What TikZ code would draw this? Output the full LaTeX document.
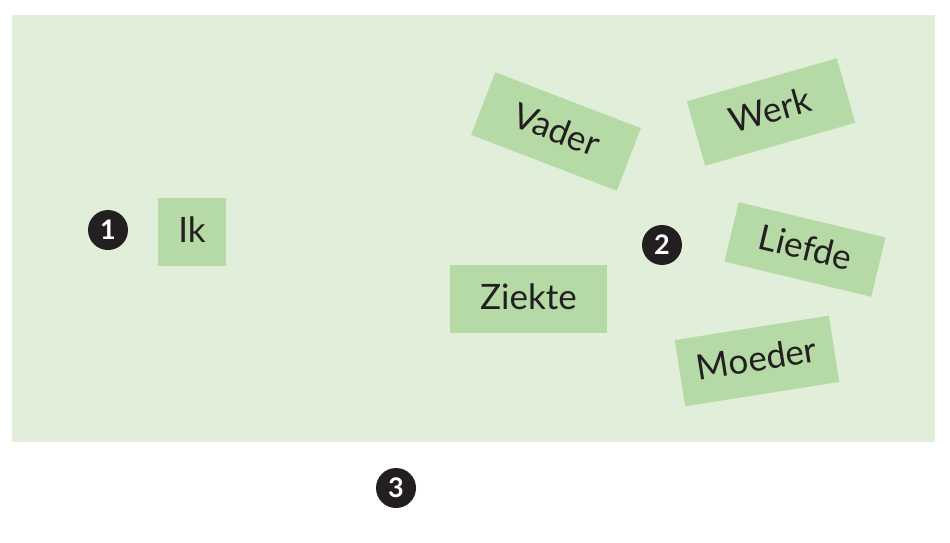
\documentclass[tikz,border=0pt]{standalone}
\usepackage{fontspec}
\setmainfont{Lato}
\definecolor{bgGreen}{HTML}{E1EED9}
\definecolor{boxGreen}{HTML}{B5DAA5}
\definecolor{inkDark}{HTML}{231F20}
\tikzset{
  wordbox/.style={fill=boxGreen, text=inkDark, inner sep=0pt, minimum width=156pt, minimum height=67pt,
    text height=25pt, text depth=4pt,
    font=\fontsize{35}{38}\selectfont},
  numdot/.style={circle, fill=inkDark, text=white, inner sep=0pt, minimum size=40pt,
    font=\fontsize{27}{30}\selectfont\bfseries}
}
\begin{document}
\begin{tikzpicture}[x=1pt,y=-1pt]
\useasboundingbox (0,0) rectangle (950,543);
\fill[white] (0,0) rectangle (950,543);
\fill[bgGreen] (12,15) rectangle (935,442);
\node[numdot] (n1) at (108,230) {1};
\node[wordbox, minimum width=68pt, minimum height=68pt] (ik) at (192,232) {Ik};
\node[wordbox, minimum width=157pt, minimum height=68pt] (ziekte) at (528.5,299) {Ziekte};
\node[wordbox, rotate=-21] (vader) at (556,131.5) {Vader};
\node[wordbox, rotate=16] (werk) at (771,112) {Werk};
\node[wordbox, rotate=-13.5, minimum width=151pt, minimum height=61pt] (liefde) at (805,249.5) {Liefde};
\node[wordbox, rotate=9] (moeder) at (757,361) {Moeder};
\node[numdot] (n2) at (662,245) {2};
\node[numdot] (n3) at (396,488) {3};
\end{tikzpicture}
\end{document}
